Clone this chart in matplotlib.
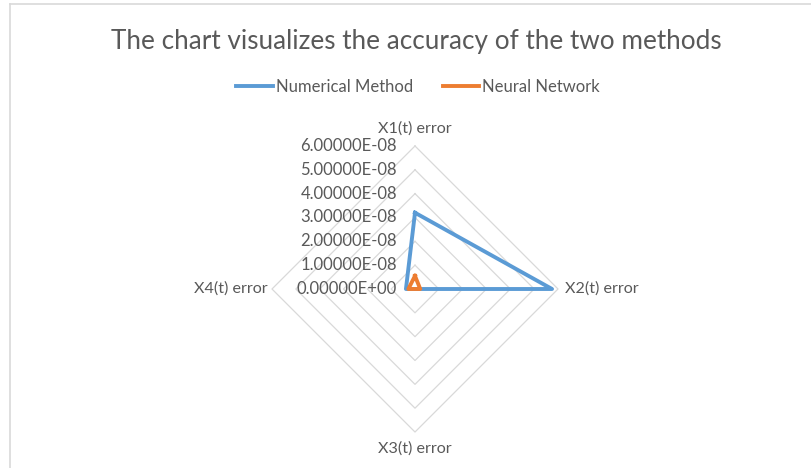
import numpy as np
import matplotlib
matplotlib.use("Agg")
import matplotlib.pyplot as plt
from matplotlib.lines import Line2D

# axis names go clockwise starting from the top, like the Excel radar chart
axes_names = ["X1(t) error", "X2(t) error", "X3(t) error", "X4(t) error"]
numerical = [3.2e-8, 5.75e-8, 0.0, 0.38e-8]
neural = [0.55e-8, 0.22e-8, 0.0, 0.28e-8]
levels = [0.0, 1e-8, 2e-8, 3e-8, 4e-8, 5e-8, 6e-8]

blue = "#5B9BD5"
orange = "#ED7D31"
grid_col = "#D9D9D9"
txt_col = "#595959"
plt.rcParams["font.family"] = ["Lato", "DejaVu Sans"]

angles = np.pi / 2 - np.arange(len(axes_names)) * 2 * np.pi / len(axes_names)


def to_xy(vals):
    vals = np.asarray(vals)
    x = vals * np.cos(angles)
    y = vals * np.sin(angles)
    return np.append(x, x[0]), np.append(y, y[0])


fig = plt.figure(figsize=(8.11, 4.68), dpi=100)
W, H = 811, 468
span = 333.7
ax = fig.add_axes([(415 - span / 2) / W, (179 - span / 2) / H, span / W, span / H])
lim = 7e-8
ax.set_xlim(-lim, lim)
ax.set_ylim(-lim, lim)
ax.axis("off")

# diamond grid
for lv in levels[1:]:
    gx, gy = to_xy([lv] * len(axes_names))
    ax.plot(gx, gy, color=grid_col, lw=0.9, zorder=1)

# radial value labels
for lv in levels:
    ax.text(-0.75e-8, lv, f"{lv:.5E}", ha="right", va="center",
            fontsize=12, color=txt_col, zorder=2)

# category labels
rmax = levels[-1]
lab_fs = 11.6
ax.text(0, rmax + 0.75e-8, axes_names[0], ha="center", va="center", fontsize=lab_fs, color=txt_col)
ax.text(rmax + 0.3e-8, 0, axes_names[1], ha="left", va="center", fontsize=lab_fs, color=txt_col)
ax.text(0, -rmax - 0.7e-8, axes_names[2], ha="center", va="center", fontsize=lab_fs, color=txt_col)
ax.text(-rmax - 0.2e-8, 0, axes_names[3], ha="right", va="center", fontsize=lab_fs, color=txt_col)

nx, ny = to_xy(numerical)
ax.plot(nx, ny, color=blue, lw=2.8, solid_joinstyle="round", zorder=3)
rx, ry = to_xy(neural)
ax.plot(rx, ry, color=orange, lw=2.8, solid_joinstyle="round", zorder=4)

fig.text(416 / W, 1 - 42 / H, "The chart visualizes the accuracy of the two methods",
         ha="center", va="center", fontsize=18.8, color=txt_col)

handles = [Line2D([], [], color=blue, lw=2.8), Line2D([], [], color=orange, lw=2.8)]
fig.legend(handles, ["Numerical Method", "Neural Network"], loc="center",
           bbox_to_anchor=(418 / W, 1 - 87 / H), ncol=2, frameon=False,
           fontsize=12, handlelength=2.2, handletextpad=0.15, columnspacing=1.8,
           labelcolor=txt_col)

# outer chart border (top and left visible)
fig.add_artist(Line2D([10 / W, 1], [1 - 4 / H, 1 - 4 / H], color="#D9D9D9", lw=1.2))
fig.add_artist(Line2D([10 / W, 10 / W], [1 - 4 / H, 0], color="#D9D9D9", lw=1.2))

fig.savefig("out.png", dpi=100)
